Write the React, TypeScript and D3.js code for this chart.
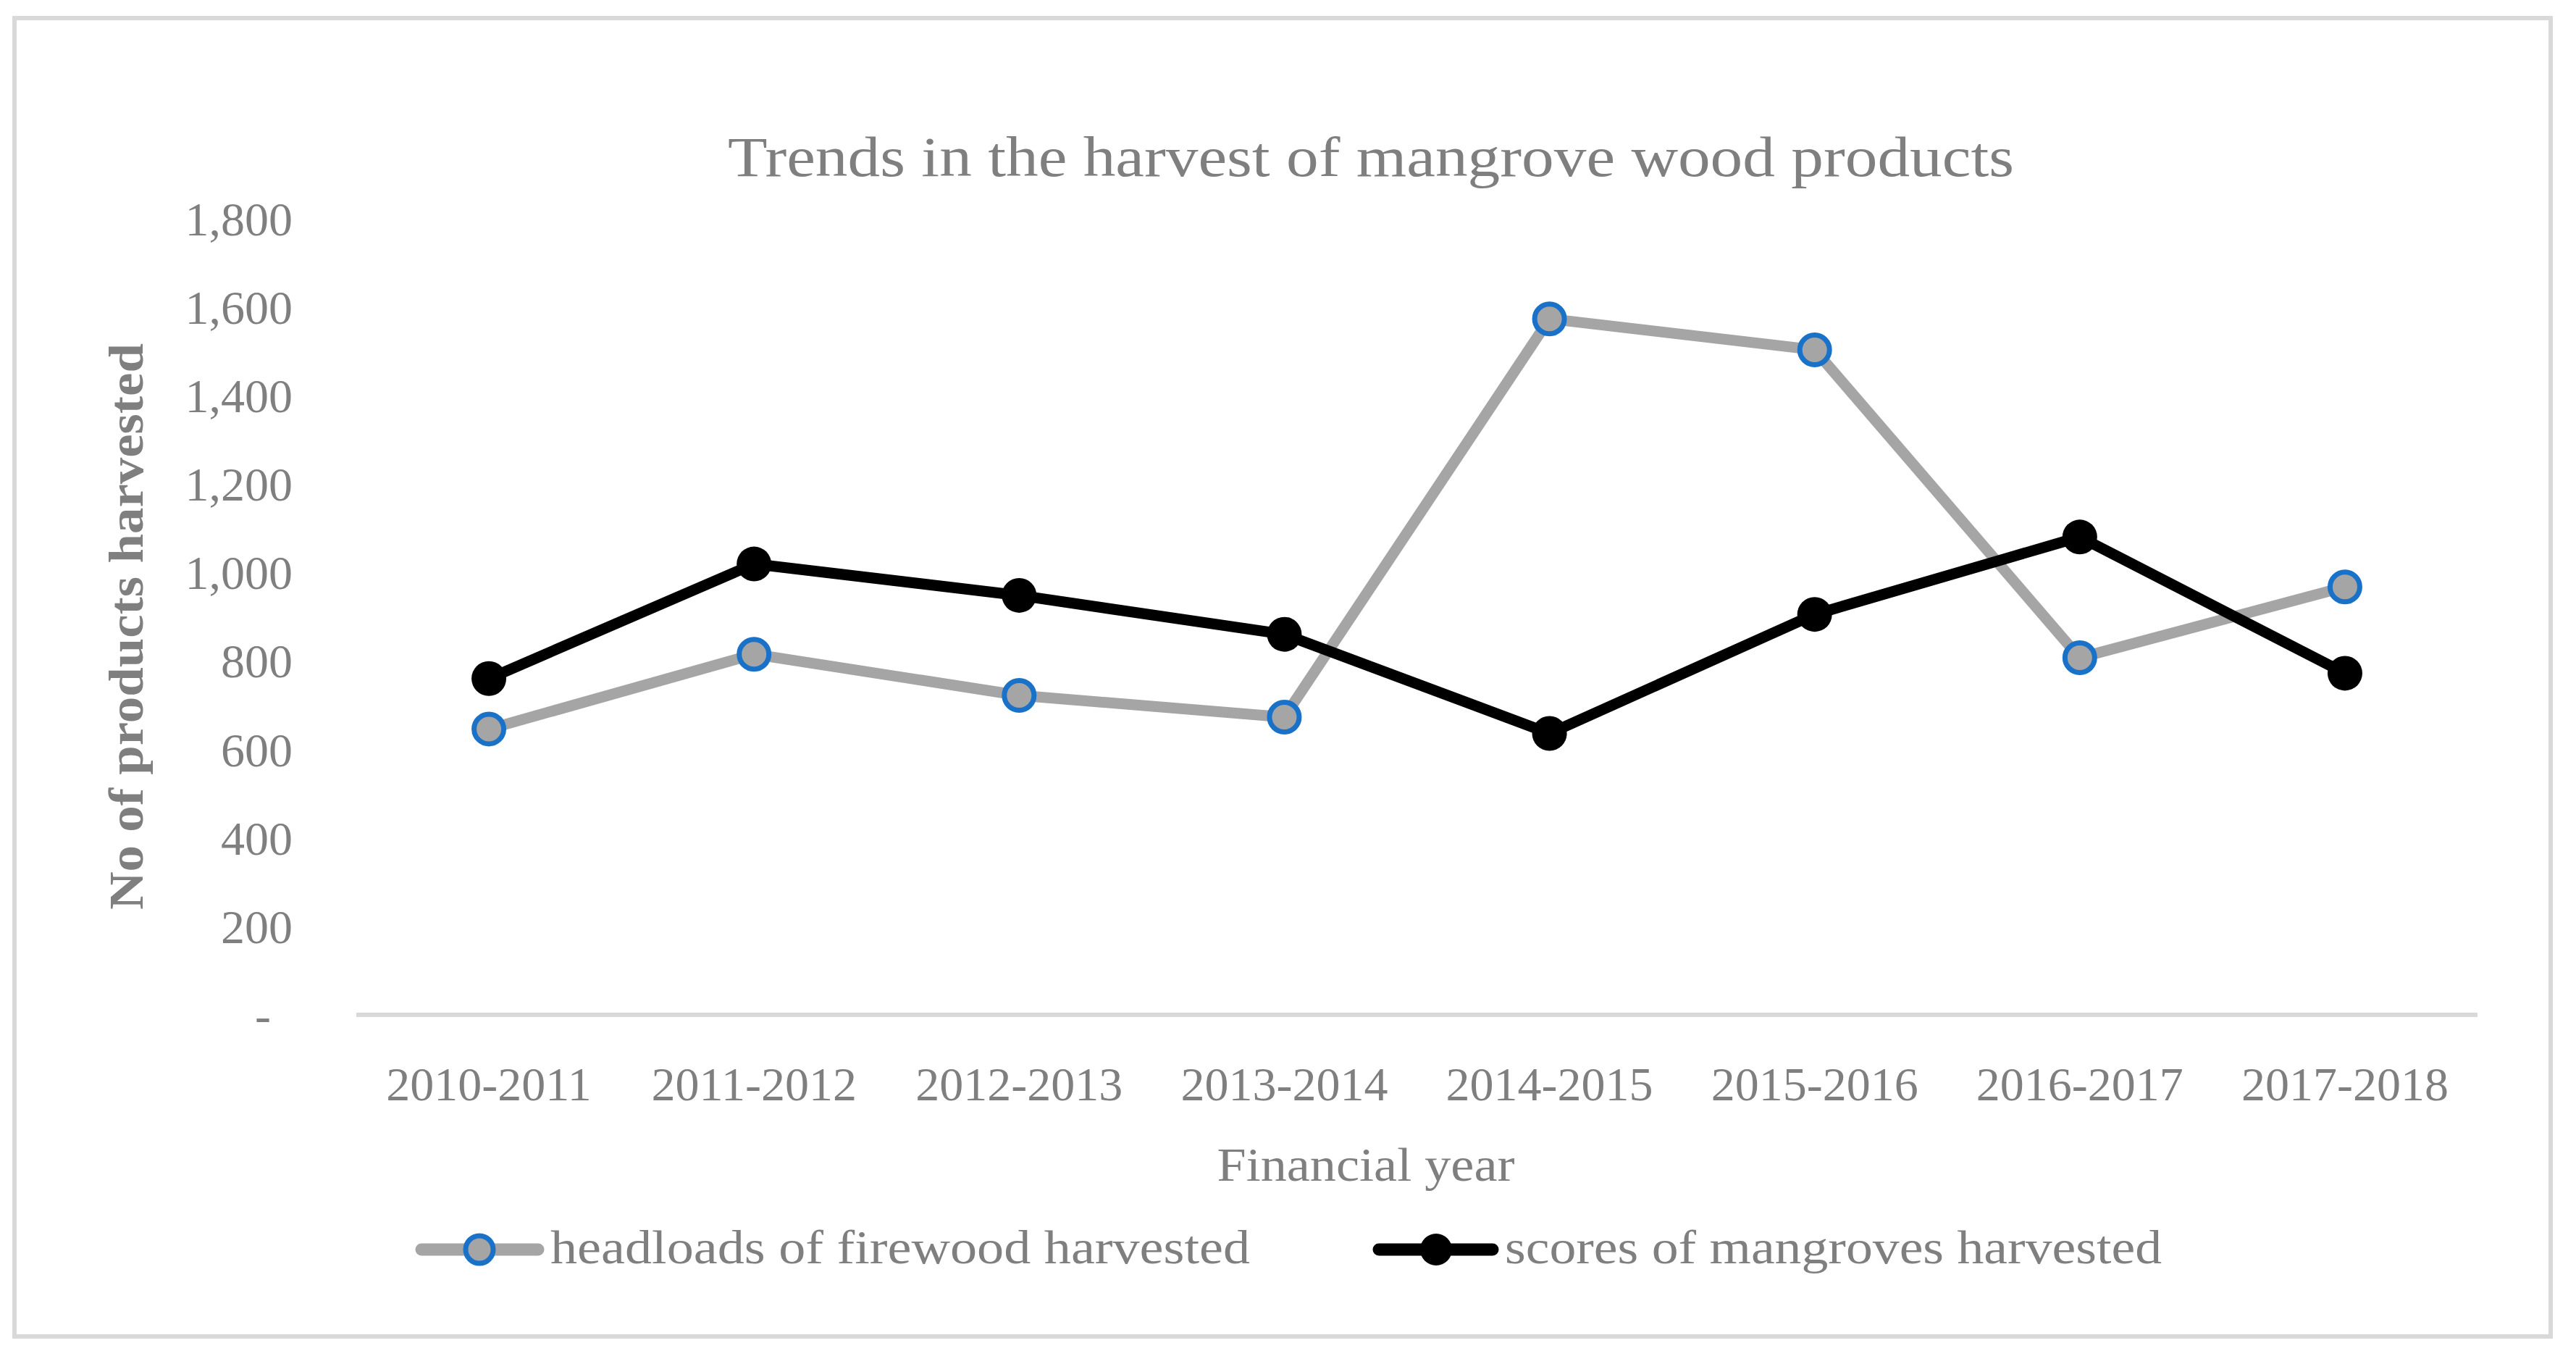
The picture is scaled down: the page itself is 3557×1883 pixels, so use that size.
import React from "react";
import * as d3 from "d3";

const categories = ["2010-2011", "2011-2012", "2012-2013", "2013-2014", "2014-2015", "2015-2016", "2016-2017", "2017-2018"];
const headloads = [646, 815, 722, 673, 1573, 1503, 807, 967];
const scores = [760, 1019, 948, 860, 636, 905, 1080, 772];
const yTicks = [0, 200, 400, 600, 800, 1000, 1200, 1400, 1600, 1800];
const seriesNames = ["headloads of firewood harvested", "scores of mangroves harvested"];
const titleText = "Trends in the harvest of mangrove wood products";
const xTitle = "Financial year";
const yTitle = "No of products harvested";

const W = 3557;
const H = 1883;
const FONT = "'Liberation Serif', 'DejaVu Serif', serif";
const TXT = "#7f7f7f";
const GRAY = "#a5a5a5";
const BLUE = "#1a72c8";

export default function App() {
  const x = d3.scaleBand<string>().domain(categories).range([492, 3421]);
  const y = d3.scaleLinear().domain([0, 1800]).range([1401, 301.5]);
  const cx = (c: string) => (x(c) as number) + x.bandwidth() / 2;
  const line = d3
    .line<number>()
    .x((_, i) => cx(categories[i]))
    .y((d) => y(d));
  const fmt = (v: number) => (v === 0 ? "-" : d3.format(",")(v));

  return (
    <svg
      width={W}
      height={H}
      viewBox={`0 0 ${W} ${H}`}
      style={{ position: "absolute", left: 0, top: 0, background: "#fff" }}
    >
      <rect x={0} y={0} width={W} height={H} fill="#fff" />
      <rect x={20} y={25} width={3502} height={1820} fill="#fff" stroke="#d9d9d9" strokeWidth={6} />

      <text x={1893} y={243} fontFamily={FONT} fontSize={78} fill={TXT} textAnchor="middle" textLength={1776} lengthAdjust="spacingAndGlyphs">
        {titleText}
      </text>

      {yTicks.map((t) => (
        <text
          key={t}
          x={t === 0 ? 374 : 404}
          y={y(t)}
          dy="0.35em"
          fontFamily={FONT}
          fontSize={66}
          fill={TXT}
          textAnchor="end"
        >
          {fmt(t)}
        </text>
      ))}

      <line x1={x.range()[0]} x2={x.range()[1]} y1={y(0)} y2={y(0)} stroke="#d9d9d9" strokeWidth={6} />

      {categories.map((c) => (
        <text key={c} x={cx(c)} y={1519} fontFamily={FONT} fontSize={66} fill={TXT} textAnchor="middle">
          {c}
        </text>
      ))}

      <text x={1886} y={1630} fontFamily={FONT} fontSize={66} fill={TXT} textAnchor="middle" textLength={411} lengthAdjust="spacingAndGlyphs">
        {xTitle}
      </text>

      <text
        transform={`translate(197, 865) rotate(-90)`}
        fontFamily={FONT}
        fontSize={68}
        fontWeight="bold"
        fill={TXT}
        textAnchor="middle"
        textLength={782}
        lengthAdjust="spacingAndGlyphs"
      >
        {yTitle}
      </text>

      <path d={line(headloads) || ""} fill="none" stroke={GRAY} strokeWidth={15} strokeLinejoin="round" />
      <path d={line(scores) || ""} fill="none" stroke="#000" strokeWidth={15} strokeLinejoin="round" />

      {headloads.map((v, i) => (
        <circle key={"h" + i} cx={cx(categories[i])} cy={y(v)} r={20.5} fill={GRAY} stroke={BLUE} strokeWidth={7} />
      ))}
      {scores.map((v, i) => (
        <circle key={"s" + i} cx={cx(categories[i])} cy={y(v)} r={24} fill="#000" />
      ))}

      {/* Legend */}
      <line x1={582} x2={743} y1={1725} y2={1725} stroke={GRAY} strokeWidth={17} strokeLinecap="round" />
      <circle cx={662} cy={1725} r={19} fill={GRAY} stroke={BLUE} strokeWidth={7} />
      <text x={760} y={1744} fontFamily={FONT} fontSize={66} fill={TXT} textLength={966} lengthAdjust="spacingAndGlyphs">
        {seriesNames[0]}
      </text>

      <line x1={1904} x2={2061} y1={1725} y2={1725} stroke="#000" strokeWidth={17} strokeLinecap="round" />
      <circle cx={1983} cy={1725} r={22} fill="#000" />
      <text x={2078} y={1744} fontFamily={FONT} fontSize={66} fill={TXT} textLength={907} lengthAdjust="spacingAndGlyphs">
        {seriesNames[1]}
      </text>
    </svg>
  );
}
